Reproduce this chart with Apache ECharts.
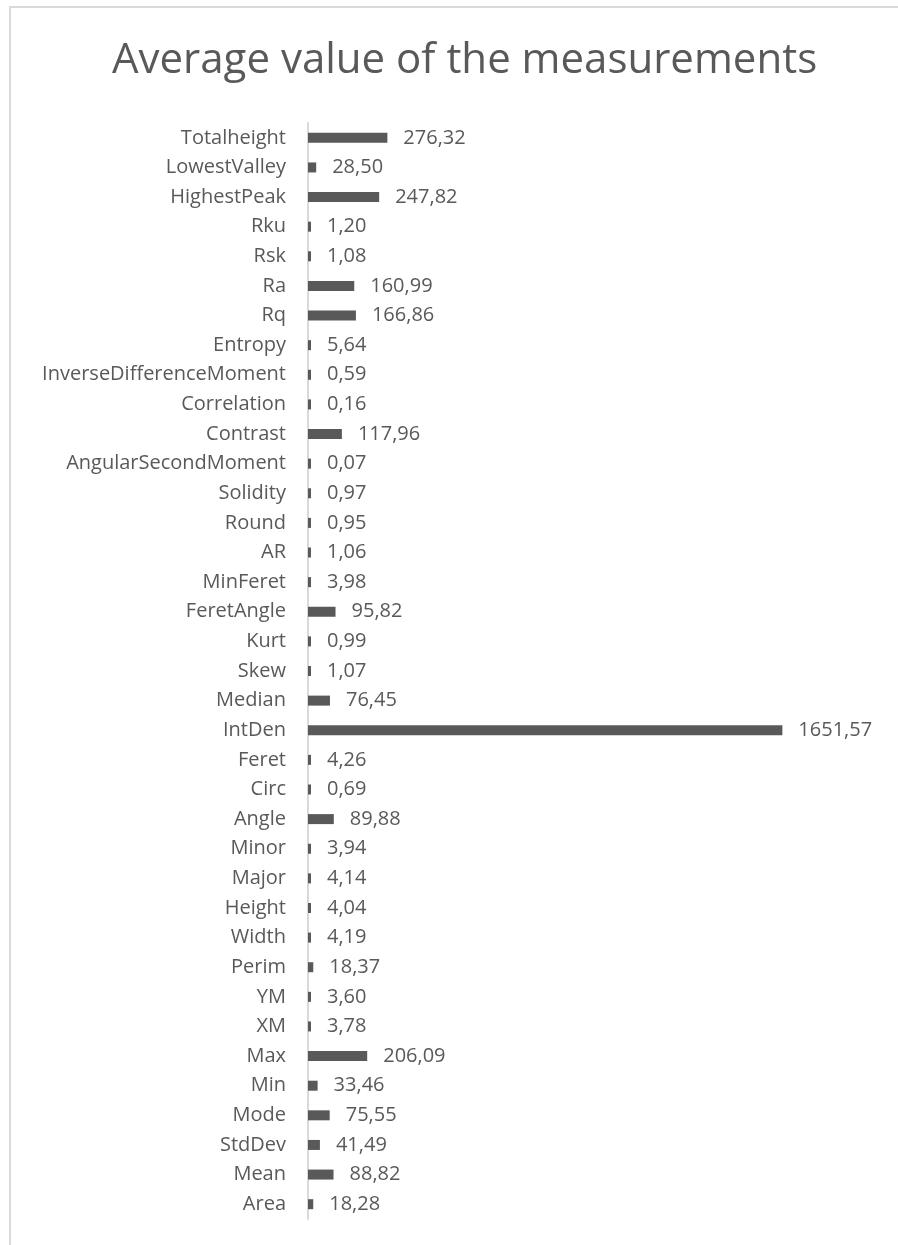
<!DOCTYPE html>
<html>
<head>
<meta charset="utf-8">
<script src="https://cdn.jsdelivr.net/npm/echarts@6/dist/echarts.min.js"></script>
<style>
html,body{margin:0;padding:0;background:#fff;}
#chart{width:898px;height:1245px;}
</style>
</head>
<body>
<div id="chart"></div>
<script>
// Categories listed bottom-to-top (ECharts category y-axis draws first item at bottom)
const categories = ["Area","Mean","StdDev","Mode","Min","Max","XM","YM","Perim","Width","Height","Major","Minor","Angle","Circ","Feret","IntDen","Median","Skew","Kurt","FeretAngle","MinFeret","AR","Round","Solidity","AngularSecondMoment","Contrast","Correlation","InverseDifferenceMoment","Entropy","Rq","Ra","Rsk","Rku","HighestPeak","LowestValley","Totalheight"];
const values = [18.28,88.82,41.49,75.55,33.46,206.09,3.78,3.60,18.37,4.19,4.04,4.14,3.94,89.88,0.69,4.26,1651.57,76.45,1.07,0.99,95.82,3.98,1.06,0.95,0.97,0.07,117.96,0.16,0.59,5.64,166.86,160.99,1.08,1.20,247.82,28.50,276.32];
const titleText = "Average value of the measurements";

const chart = echarts.init(document.getElementById('chart'), null, {renderer:'canvas'});
const FONT = "'Open Sans', sans-serif";
chart.setOption({
  animation:false,
  backgroundColor:'#ffffff',
  title:{
    text:titleText,
    left:107,
    top:35,
    textStyle:{fontFamily:FONT,fontSize:42,fontWeight:'normal',color:'#595959'}
  },
  graphic:[{
    type:'rect',
    shape:{x:10,y:7,width:900,height:1260},
    style:{fill:'none',stroke:'#d9d9d9',lineWidth:2},
    silent:true
  }],
  grid:{left:308,top:123,width:517,bottom:26,containLabel:false},
  xAxis:{
    type:'value',min:0,max:1800,show:false
  },
  yAxis:{
    type:'category',
    data:categories,
    axisLine:{show:true,lineStyle:{color:'#d9d9d9',width:2}},
    axisTick:{show:false},
    axisLabel:{fontFamily:FONT,fontSize:20,color:'#595959',margin:22},
    splitLine:{show:false}
  },
  series:[{
    type:'bar',
    data:values,
    barWidth:10,
    barMinHeight:3,
    itemStyle:{color:'#595959'},
    label:{
      show:true,
      position:'right',
      distance:16,
      fontFamily:FONT,
      fontSize:20,
      color:'#595959',
      formatter:function(p){return p.value.toFixed(2).replace('.',',');}
    }
  }]
});
</script>
</body>
</html>
